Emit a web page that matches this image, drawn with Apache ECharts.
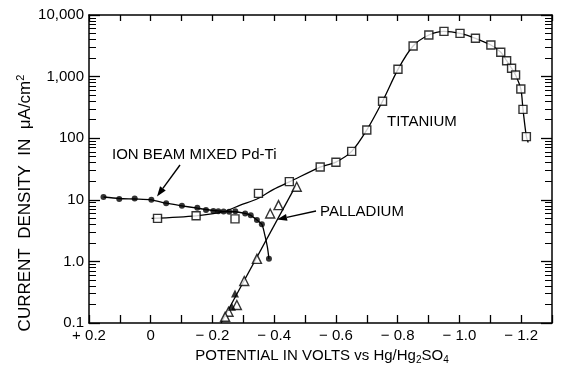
<!DOCTYPE html>
<html>
<head>
<meta charset="utf-8">
<script src="https://cdn.jsdelivr.net/npm/echarts@6/dist/echarts.min.js"></script>
<style>
html, body { margin: 0; padding: 0; background: #fff; }
#main { width: 561px; height: 365px; }
</style>
</head>
<body>
<div id="main"></div>
<script>
// [potential V vs Hg/Hg2SO4, current density uA/cm2]
var pdTiPoints = [[0.153, 11.1], [0.102, 10.3], [0.052, 10.5], [-0.002, 10.0], [-0.050, 8.8],
    [-0.101, 8.0], [-0.151, 7.4], [-0.179, 6.8], [-0.203, 6.6], [-0.219, 6.5], [-0.236, 6.45],
    [-0.254, 6.4], [-0.274, 6.5], [-0.306, 6.0], [-0.324, 5.6], [-0.344, 4.7], [-0.360, 4.0],
    [-0.383, 1.1]];
var pdTiCurve = [[0.153, 11.1], [0.102, 10.5], [0.052, 10.3], [-0.002, 10.0], [-0.050, 8.8],
    [-0.101, 8.0], [-0.151, 7.3], [-0.203, 6.7], [-0.254, 6.4], [-0.274, 6.4], [-0.306, 6.0],
    [-0.324, 5.6], [-0.344, 4.7], [-0.360, 4.0], [-0.371, 2.5], [-0.378, 1.7], [-0.383, 1.1]];
var tiPoints = [[-0.022, 5.0], [-0.147, 5.5], [-0.273, 4.9], [-0.349, 12.7], [-0.449, 19.7],
    [-0.549, 34], [-0.600, 40.6], [-0.651, 61], [-0.700, 136], [-0.751, 397], [-0.801, 1313],
    [-0.850, 3140], [-0.901, 4730], [-0.950, 5430], [-1.002, 5040], [-1.052, 4190],
    [-1.102, 3260], [-1.134, 2480], [-1.153, 1810], [-1.169, 1365], [-1.182, 1060],
    [-1.199, 630], [-1.206, 294], [-1.217, 106]];
var tiCurve = [[-0.003, 5.0], [-0.147, 5.5], [-0.236, 6.4], [-0.29, 8.2], [-0.349, 10.6],
    [-0.398, 14.8], [-0.449, 19.5], [-0.549, 34], [-0.600, 41], [-0.651, 61], [-0.700, 136],
    [-0.751, 397], [-0.801, 1313], [-0.850, 3140], [-0.901, 4730], [-0.950, 5430],
    [-1.002, 5040], [-1.052, 4190], [-1.102, 3260], [-1.134, 2480], [-1.153, 1810],
    [-1.169, 1365], [-1.182, 1060], [-1.199, 630], [-1.206, 294], [-1.217, 106], [-1.223, 85]];
var pdPoints = [[-0.473, 16.3], [-0.414, 8.2], [-0.387, 6.0], [-0.344, 1.1], [-0.303, 0.48],
    [-0.279, 0.196], [-0.252, 0.152], [-0.241, 0.126]];
var pdFilled = [[-0.273, 0.30], [-0.263, 0.184]];
var pdCurve = [[-0.228, 0.1], [-0.47, 17]];
var yTickLabels = ['0.1', '1.0', '10', '100', '1,000', '10,000'];

var font = '"Liberation Sans", Arial, Helvetica, sans-serif';

function fmtX(v) {
    var t = Math.round(v * 10);
    if (t % 2 !== 0) return '';
    if (t === 0) return '0';
    if (t > 0) return '+ ' + (t / 10).toFixed(1);
    return '\u2212 ' + (-t / 10).toFixed(1);
}
function fmtY(v) {
    return yTickLabels[Math.round(Math.log10(v)) + 1] || '';
}

function arrow(x1, y1, x2, y2) {
    var a = Math.atan2(y2 - y1, x2 - x1), L = 10, W = 3.5;
    var bx = x2 - L * Math.cos(a), by = y2 - L * Math.sin(a);
    return [
        { type: 'line', shape: { x1: x1, y1: y1, x2: bx, y2: by },
          style: { stroke: '#000', lineWidth: 1.4 } },
        { type: 'polygon', shape: { points: [[x2, y2],
            [bx + W * Math.sin(a), by - W * Math.cos(a)],
            [bx - W * Math.sin(a), by + W * Math.cos(a)]] },
          style: { fill: '#000' } }
    ];
}

function txt(x, y, s) {
    return { type: 'text', x: x, y: y,
        style: { text: s, font: '15px ' + font, fill: '#000', textAlign: 'left', textVerticalAlign: 'middle' } };
}

var axisLine = { onZero: false, lineStyle: { color: '#000', width: 1.5 } };

var option = {
    animation: false,
    backgroundColor: '#fff',
    grid: { left: 89, right: 9, top: 15, bottom: 42 },
    xAxis: [{
        type: 'value', inverse: true, min: -1.3, max: 0.2, interval: 0.1,
        axisLine: axisLine,
        axisTick: { inside: true, length: 8, lineStyle: { color: '#000', width: 1.3 } },
        axisLabel: { margin: 5, color: '#000', fontSize: 15, fontFamily: font, formatter: fmtX },
        splitLine: { show: false }
    }, {
        type: 'value', position: 'top', inverse: true, min: -1.3, max: 0.2, interval: 0.1,
        axisLine: axisLine,
        axisTick: { inside: true, length: 6, lineStyle: { color: '#000', width: 1.3 } },
        axisLabel: { show: false },
        splitLine: { show: false }
    }],
    yAxis: [{
        type: 'log', logBase: 10, min: 0.1, max: 10000,
        axisLine: axisLine,
        axisTick: { inside: true, length: 11, lineStyle: { color: '#000', width: 1.3 } },
        minorTick: { show: true, splitNumber: 9, length: 7, lineStyle: { color: '#000', width: 1 } },
        axisLabel: { margin: 5, color: '#000', fontSize: 15, fontFamily: font, formatter: fmtY },
        splitLine: { show: false }
    }, {
        type: 'log', logBase: 10, min: 0.1, max: 10000, position: 'right',
        axisLine: axisLine,
        axisTick: { inside: true, length: 11, lineStyle: { color: '#000', width: 1.3 } },
        minorTick: { show: true, splitNumber: 9, length: 7, lineStyle: { color: '#000', width: 1 } },
        axisLabel: { show: false },
        splitLine: { show: false }
    }],
    series: [
        { name: 'Pd-Ti curve', type: 'line', data: pdTiCurve, symbol: 'none', smooth: 0.25,
          lineStyle: { color: '#000', width: 1.3 }, z: 2 },
        { name: 'Ti curve', type: 'line', data: tiCurve, symbol: 'none', smooth: 0.3,
          lineStyle: { color: '#000', width: 1.3 }, z: 2 },
        { name: 'Pd curve', type: 'line', data: pdCurve, symbol: 'none',
          lineStyle: { color: '#000', width: 1.3 }, z: 2 },
        { name: 'Ion beam mixed Pd-Ti', type: 'scatter', data: pdTiPoints, symbol: 'circle',
          symbolSize: 6, itemStyle: { color: '#000' }, z: 3 },
        { name: 'Titanium', type: 'scatter', data: tiPoints, symbol: 'rect', symbolSize: 8,
          itemStyle: { color: '#fff', borderColor: '#000', borderWidth: 1.4 }, z: 4 },
        { name: 'Palladium', type: 'scatter', data: pdPoints, symbol: 'triangle', symbolSize: 9,
          itemStyle: { color: '#fff', borderColor: '#000', borderWidth: 1.4 }, z: 4 },
        { name: 'Palladium filled', type: 'scatter', data: pdFilled, symbol: 'triangle', symbolSize: 8,
          itemStyle: { color: '#000' }, z: 4 }
    ],
    graphic: [].concat(
        arrow(180, 165, 157, 196.5),
        arrow(316, 211, 277, 219.5),
        [
            txt(112, 155, 'ION BEAM MIXED Pd-Ti'),
            txt(320, 212, 'PALLADIUM'),
            txt(387, 122, 'TITANIUM'),
            { type: 'text', x: 25, y: 203, rotation: Math.PI / 2,
              style: { text: '{t|CURRENT  DENSITY  IN  \u03bcA/cm}{s|2}',
                  textAlign: 'center', textVerticalAlign: 'middle',
                  rich: { t: { font: '17px ' + font, fill: '#000', lineHeight: 20 },
                          s: { font: '11px ' + font, fill: '#000', verticalAlign: 'top', lineHeight: 20 } } } },
            { type: 'text', x: 322, y: 356,
              style: { text: '{t|POTENTIAL IN VOLTS vs Hg/Hg}{b|2}{t|SO}{b|4}',
                  textAlign: 'center', textVerticalAlign: 'middle',
                  rich: { t: { font: '15px ' + font, fill: '#000', lineHeight: 18 },
                          b: { font: '10px ' + font, fill: '#000', verticalAlign: 'bottom', lineHeight: 18 } } } }
        ]
    )
};

var chart = echarts.init(document.getElementById('main'));
chart.setOption(option);
</script>
</body>
</html>
